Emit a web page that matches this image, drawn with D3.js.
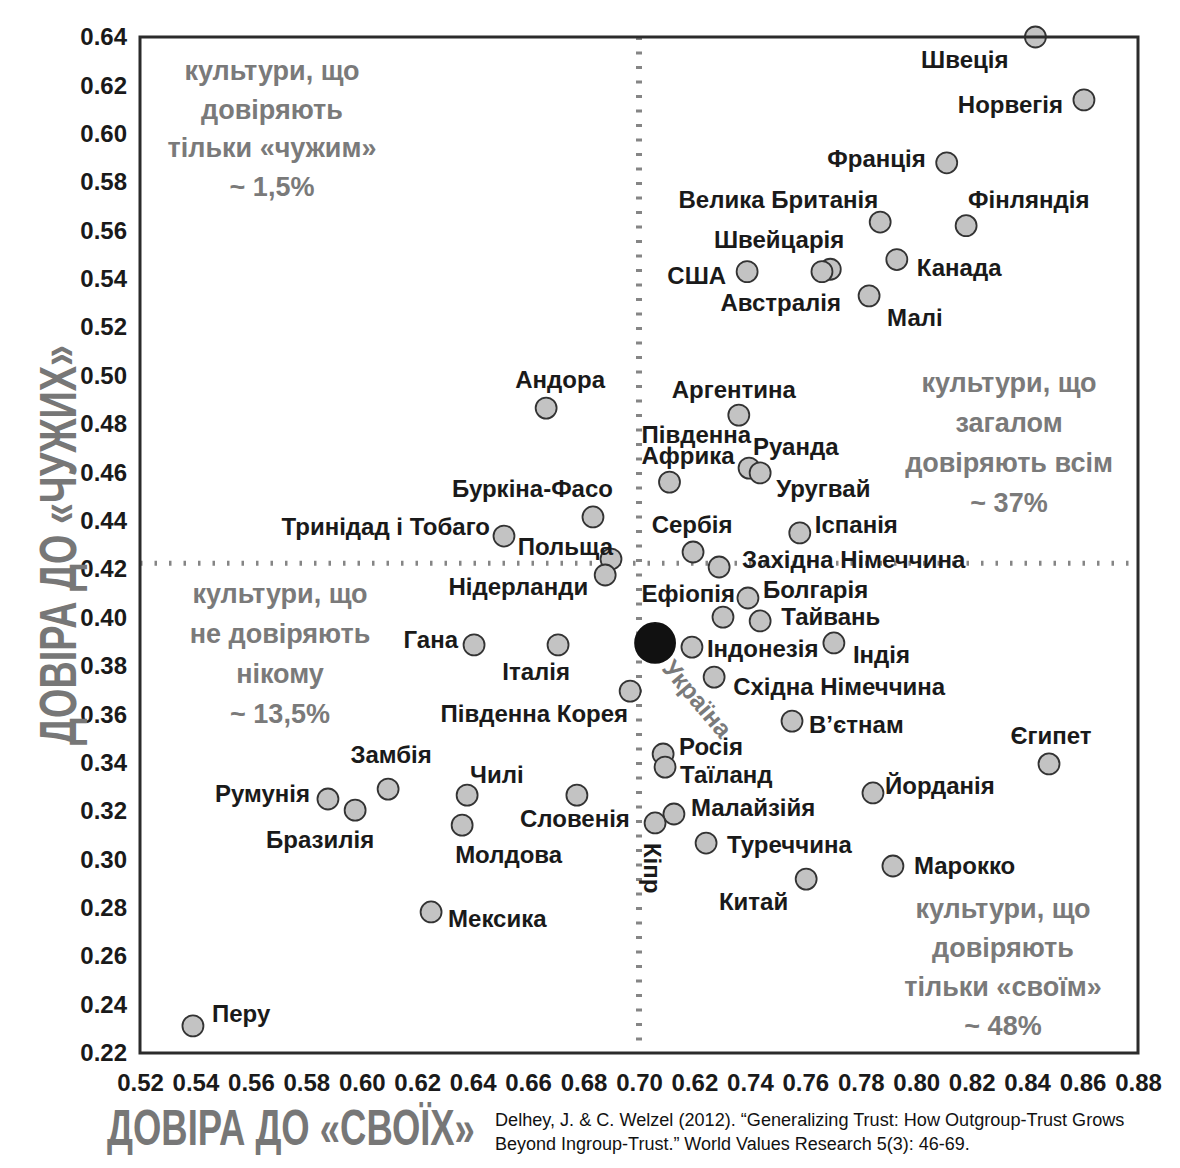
<!DOCTYPE html>
<html>
<head>
<meta charset="utf-8">
<script src="https://cdn.jsdelivr.net/npm/d3@7"></script>
<style>
  body { margin: 0; background: #fff; }
</style>
</head>
<body>
<div id="chart"></div>
<script>
// Countries with trust in the ingroup (x) and in outgroups (y)
var countries = [
    "Швеція", "Норвегія", "Франція", "Велика Британія", "Фінляндія", "Канада",
    "США", "Швейцарія", "Австралія", "Малі", "Андора", "Аргентина",
    "Південна\nАфрика", "Руанда", "Уругвай", "Буркіна-Фасо", "Тринідад і Тобаго", "Польща",
    "Нідерланди", "Сербія", "Західна Німеччина", "Іспанія", "Болгарія", "Ефіопія",
    "Тайвань", "Гана", "Італія", "Індонезія", "Індія", "Східна Німеччина",
    "Південна Корея", "В’єтнам", "Росія", "Таїланд", "Чилі", "Словенія",
    "Малайзійя", "Кіпр", "Молдова", "Туреччина", "Китай", "Мексика",
    "Румунія", "Бразилія", "Замбія", "Перу", "Єгипет", "Йорданія",
    "Марокко", "Україна"
];
var ingroupTrust = [
    0.843, 0.8605, 0.811, 0.787, 0.818, 0.793,
    0.739, 0.769, 0.766, 0.783, 0.6665, 0.736,
    0.711, 0.7397, 0.7437, 0.6834, 0.6513, 0.6899,
    0.6878, 0.7195, 0.7289, 0.758, 0.7393, 0.7303,
    0.7437, 0.6405, 0.6708, 0.7191, 0.7703, 0.7271,
    0.6968, 0.7552, 0.7087, 0.7094, 0.638, 0.6776,
    0.7126, 0.7058, 0.6362, 0.7242, 0.7603, 0.625,
    0.5878, 0.5976, 0.6095, 0.5391, 0.8479, 0.7844,
    0.7916, 0.7058
];
var outgroupTrust = [
    0.640, 0.614, 0.588, 0.5635, 0.562, 0.548,
    0.543, 0.544, 0.543, 0.533, 0.4866, 0.4837,
    0.456, 0.4618, 0.4598, 0.4416, 0.4337, 0.4242,
    0.4176, 0.4271, 0.4209, 0.435, 0.4081, 0.4002,
    0.3986, 0.3887, 0.3887, 0.3878, 0.3895, 0.3754,
    0.3696, 0.3572, 0.3436, 0.3382, 0.3266, 0.3266,
    0.3188, 0.3151, 0.3142, 0.3068, 0.2919, 0.2783,
    0.325, 0.3204, 0.3291, 0.2312, 0.3395, 0.3275,
    0.2973, 0.3895
];
var highlighted = "Україна";

// Axis ticks (the 0.72 tick is printed as "0.62" in the source)
var xTicks = [0.52, 0.54, 0.56, 0.58, 0.60, 0.62, 0.64, 0.66, 0.68, 0.70,
              0.72, 0.74, 0.76, 0.78, 0.80, 0.82, 0.84, 0.86, 0.88];
var xTickLabels = ["0.52", "0.54", "0.56", "0.58", "0.60", "0.62", "0.64", "0.66", "0.68", "0.70",
                   "0.62", "0.74", "0.76", "0.78", "0.80", "0.82", "0.84", "0.86", "0.88"];
var yTicks = [0.22, 0.24, 0.26, 0.28, 0.30, 0.32, 0.34, 0.36, 0.38, 0.40, 0.42,
              0.44, 0.46, 0.48, 0.50, 0.52, 0.54, 0.56, 0.58, 0.60, 0.62, 0.64];
var yTickLabels = ["0.22", "0.24", "0.26", "0.28", "0.30", "0.32", "0.34", "0.36", "0.38", "0.40", "0.42",
                   "0.44", "0.46", "0.48", "0.50", "0.52", "0.54", "0.56", "0.58", "0.60", "0.62", "0.64"];

// Quadrant split
var splitX = 0.70;
var splitY = 0.4225;

var quadrantNotes = [
    ["культури, що", "довіряють", "тільки «чужим»", "~ 1,5%"],
    ["культури, що", "загалом", "довіряють всім", "~ 37%"],
    ["культури, що", "не довіряють", "нікому", "~ 13,5%"],
    ["культури, що", "довіряють", "тільки «своїм»", "~ 48%"]
];
var xTitle = "ДОВІРА ДО «СВОЇХ»";
var yTitle = "ДОВІРА ДО «ЧУЖИХ»";
var sourceLines = [
    "Delhey, J. & C. Welzel (2012). “Generalizing Trust: How Outgroup-Trust Grows",
    "Beyond Ingroup-Trust.” World Values Research 5(3): 46-69."
];

// Label placement relative to the point: [dx, dy, anchor, rotation]
var labelLayout = {
    "Швеція": [-27, 31, "end"], "Норвегія": [-21, 13, "end"], "Франція": [-21, 4, "end"],
    "Велика Британія": [-2, -14, "end"], "Фінляндія": [2, -18, "start"], "Канада": [20, 16, "start"],
    "США": [-21, 12, "end"], "Швейцарія": [14, -21, "end"], "Австралія": [19, 39, "end"],
    "Малі": [18, 30, "start"], "Андора": [14, -20, "middle"], "Аргентина": [-5, -17, "middle"],
    "Південна\nАфрика": [-28, -39, "start"], "Руанда": [4, -13, "start"], "Уругвай": [16, 24, "start"],
    "Буркіна-Фасо": [20, -20, "end"], "Тринідад і Тобаго": [-14, -1, "end"], "Польща": [2, -4, "end"],
    "Нідерланди": [-17, 20, "end"], "Сербія": [-1, -19, "middle"], "Західна Німеччина": [23, 1, "start"],
    "Іспанія": [15, 0, "start"], "Болгарія": [15, 0, "start"], "Ефіопія": [12, -15, "end"],
    "Тайвань": [21, 4, "start"], "Гана": [-16, 3, "end"], "Італія": [-22, 35, "middle"],
    "Індонезія": [15, 10, "start"], "Індія": [19, 20, "start"], "Східна Німеччина": [19, 18, "start"],
    "Південна Корея": [-2, 31, "end"], "В’єтнам": [17, 12, "start"], "Росія": [16, 1, "start"],
    "Таїланд": [15, 16, "start"], "Чилі": [3, -12, "start"], "Словенія": [-2, 32, "middle"],
    "Малайзійя": [17, 2, "start"], "Кіпр": [-11, 20, "start", 90], "Молдова": [-7, 38, "start"],
    "Туреччина": [21, 10, "start"], "Китай": [-18, 31, "end"], "Мексика": [17, 15, "start"],
    "Румунія": [-18, 3, "end"], "Бразилія": [-35, 38, "middle"], "Замбія": [3, -26, "middle"],
    "Перу": [19, -4, "start"], "Єгипет": [2, -20, "middle"], "Йорданія": [12, 1, "start"],
    "Марокко": [21, 8, "start"], "Україна": [6, 26, "start", 50]
};

// Pixel placement of the quadrant notes: [centre x, first baseline, line height]
var noteLayout = [[272, 80, 38.5], [1009, 392, 40], [280, 603, 40], [1003, 918, 39]];

var FONT = "'Liberation Sans', Arial, sans-serif";

// Squeeze a text horizontally (along its own direction) to a target length
function fitWidth(text, target) {
    var w = text.node().getComputedTextLength();
    return target / w;
}

function drawTrustChart() {
    var width = 1180,
        height = 1168;
    var left = 140, right = 1138, top = 37, bottom = 1053;

    var svg = d3.select("#chart").append("svg")
        .attr("width", width)
        .attr("height", height)
        .style("font-family", FONT);

    svg.append("rect").attr("width", width).attr("height", height).attr("fill", "#fff");

    var x = d3.scaleLinear().domain([0.52, 0.88]).range([left, right]);
    var y = d3.scaleLinear().domain([0.22, 0.64]).range([bottom, top]);

    var data = countries.map(function(c, i) {
        return { name: c, x: ingroupTrust[i], y: outgroupTrust[i] };
    });

    // Axes: labels only, no tick marks
    var yAxis = svg.append("g")
        .attr("transform", "translate(" + left + ",0)")
        .call(d3.axisLeft(y).tickValues(yTicks).tickSize(0).tickPadding(13)
            .tickFormat(function(d, i) { return yTickLabels[i]; }));
    var xAxis = svg.append("g")
        .attr("transform", "translate(0," + bottom + ")")
        .call(d3.axisBottom(x).tickValues(xTicks).tickSize(0).tickPadding(21)
            .tickFormat(function(d, i) { return xTickLabels[i]; }));
    [xAxis, yAxis].forEach(function(ax) {
        ax.select(".domain").remove();
        ax.selectAll("text")
            .attr("font-family", FONT)
            .attr("font-size", 24)
            .attr("font-weight", "bold")
            .attr("fill", "#1a1a1a");
    });

    // Quadrant dividers
    svg.append("line")
        .attr("x1", left).attr("x2", right)
        .attr("y1", y(splitY)).attr("y2", y(splitY))
        .attr("stroke", "#858585").attr("stroke-width", 5)
        .attr("stroke-dasharray", "2.5,12");
    svg.append("line")
        .attr("x1", x(splitX)).attr("x2", x(splitX))
        .attr("y1", top).attr("y2", bottom)
        .attr("stroke", "#858585").attr("stroke-width", 6)
        .attr("stroke-dasharray", "3,11.5");

    // Quadrant notes
    quadrantNotes.forEach(function(lines, q) {
        var pos = noteLayout[q];
        svg.append("text")
            .attr("text-anchor", "middle")
            .attr("font-size", 27)
            .attr("font-weight", "bold")
            .attr("fill", "#7a7a7a")
            .selectAll("tspan")
            .data(lines)
            .enter().append("tspan")
            .attr("x", pos[0])
            .attr("y", function(d, i) { return pos[1] + i * pos[2]; })
            .text(function(d) { return d; });
    });

    // Points
    svg.selectAll("circle.country")
        .data(data)
        .enter().append("circle")
        .attr("class", "country")
        .attr("cx", function(d) { return x(d.x); })
        .attr("cy", function(d) { return y(d.y); })
        .attr("r", function(d) { return d.name === highlighted ? 20 : 10.5; })
        .attr("fill", function(d) { return d.name === highlighted ? "#111" : "#c3c3c3"; })
        .attr("stroke", function(d) { return d.name === highlighted ? "#111" : "#333"; })
        .attr("stroke-width", 1.8);

    // Country labels
    var labels = svg.selectAll("text.label")
        .data(data)
        .enter().append("text")
        .attr("class", "label")
        .attr("transform", function(d) {
            var l = labelLayout[d.name];
            return "translate(" + (x(d.x) + l[0]) + "," + (y(d.y) + l[1]) + ")" +
                (l[3] ? " rotate(" + l[3] + ")" : "");
        })
        .attr("text-anchor", function(d) { return labelLayout[d.name][2]; })
        .attr("font-size", function(d) { return d.name === highlighted ? 25 : 24; })
        .attr("font-weight", "bold")
        .attr("fill", function(d) { return d.name === highlighted ? "#7a7a7a" : "#1a1a1a"; });

    labels.selectAll("tspan")
        .data(function(d) { return d.name.split("\n"); })
        .enter().append("tspan")
        .attr("x", 0)
        .attr("y", function(d, i) { return i * 21; })
        .text(function(d) { return d; });

    // Frame
    svg.append("rect")
        .attr("x", left).attr("y", top)
        .attr("width", right - left).attr("height", bottom - top)
        .attr("fill", "none")
        .attr("stroke", "#2b2b2b")
        .attr("stroke-width", 3);

    // Axis titles, condensed to the width they take in the source
    var yT = svg.append("text")
        .attr("text-anchor", "middle")
        .attr("font-size", 51)
        .attr("font-weight", "bold")
        .attr("fill", "#777")
        .text(yTitle);
    yT.attr("transform", "translate(76,545) rotate(-90) scale(" + fitWidth(yT, 400) + ",1)");

    var xT = svg.append("text")
        .attr("font-size", 50)
        .attr("font-weight", "bold")
        .attr("fill", "#777")
        .text(xTitle);
    xT.attr("transform", "translate(107,1145) scale(" + fitWidth(xT, 368) + ",1)");

    // Source
    var srcWidths = [630, 475];
    svg.selectAll("text.source")
        .data(sourceLines)
        .enter().append("text")
        .attr("class", "source")
        .attr("font-size", 19)
        .attr("fill", "#111")
        .text(function(d) { return d; })
        .each(function(d, i) {
            var t = d3.select(this);
            t.attr("transform", "translate(495," + (1126 + i * 24) + ") scale(" +
                fitWidth(t, srcWidths[i]) + ",1)");
        });
}

drawTrustChart();
</script>
</body>
</html>
